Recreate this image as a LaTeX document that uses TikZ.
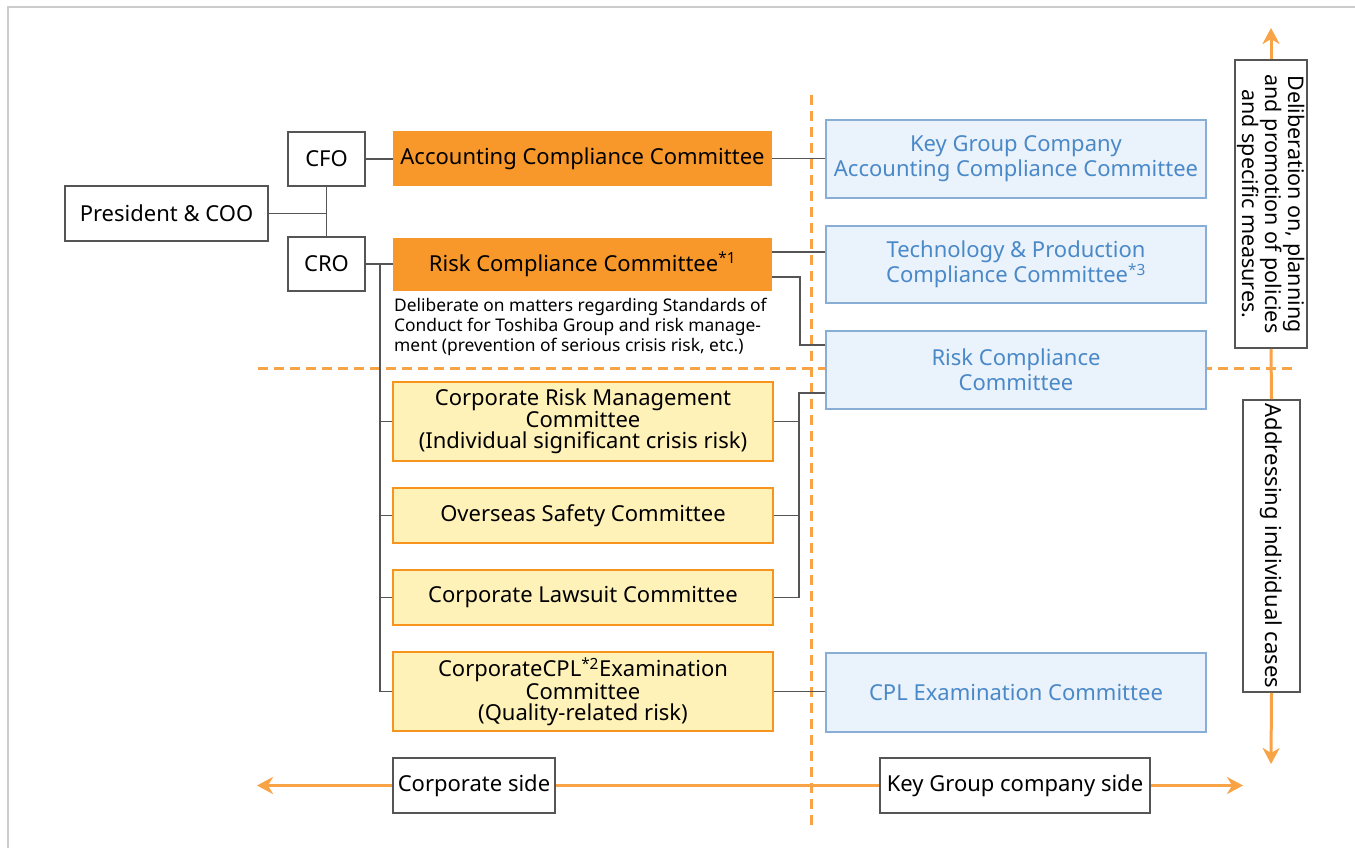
\documentclass[tikz,border=0pt]{standalone}
\usepackage{fontspec}
\setmainfont{Noto Sans}
\usetikzlibrary{arrows.meta}
\definecolor{orangeF}{HTML}{F8982B}
\definecolor{orangeD}{HTML}{F7941D}
\definecolor{yellowF}{HTML}{FFF2B9}
\definecolor{blueF}{HTML}{EAF2FB}
\definecolor{blueD}{HTML}{88AED6}
\definecolor{blueT}{HTML}{4A89C8}
\definecolor{lineC}{HTML}{555555}
\definecolor{arrowC}{HTML}{F9A347}
\definecolor{frameC}{HTML}{CCCCCC}
\tikzset{
  lbl/.style={font=\fontsize{22}{21}\selectfont, align=center, inner sep=0pt},
  whitebox/.style={lbl, draw=lineC, line width=1.8pt, fill=white, text=black},
  orangebox/.style={lbl, fill=orangeF, draw=none, text=black},
  yellowbox/.style={lbl, fill=yellowF, draw=orangeD, line width=1.5pt, text=black, minimum width=380pt},
  bluebox/.style={lbl, font=\fontsize{22}{25}\selectfont, fill=blueF, draw=blueD, line width=1.5pt, text=blueT, minimum width=380pt, minimum height=78pt},
  conn/.style={draw=lineC, line width=1.8pt},
  oline/.style={draw=arrowC, line width=3pt},
  oarrow/.style={oline, -{Stealth[length=16pt,width=17pt,inset=5pt]}},
  odash/.style={draw=arrowC, line width=3pt, dash pattern=on 10pt off 6pt},
}
\begin{document}
\begin{tikzpicture}[x=1pt,y=-1pt]
\useasboundingbox (0,0) rectangle (1355,848);
\fill[white] (0,0) rectangle (1355,848);
% page frame
\draw[frameC, line width=2pt] (8,848) -- (8,7) -- (1355,7);
% dashed separators
\draw[odash] (258,368) -- (1295,368);
\draw[odash] (811,95) -- (811,830);

% left column
\node[whitebox, minimum width=203pt, minimum height=55pt] (pres) at (166.5,213.5) {President \& COO};
\node[whitebox, minimum width=77pt, minimum height=54pt] (cfo) at (326.5,159) {CFO};
\node[whitebox, minimum width=77pt, minimum height=54pt] (cro) at (326.5,264) {CRO};

\node[orangebox, minimum width=379pt, minimum height=55pt] (acc) at (582.5,158.5) {Accounting Compliance Committee};
\node[orangebox, minimum width=379pt, minimum height=53pt] (risk) at (582.5,264.5) {Risk Compliance Committee\textsuperscript{*1}};
\node[anchor=west, align=left, inner sep=0pt, font=\fontsize{17.4}{20}\selectfont] (desc) at (394,327)
  {Deliberate on matters regarding Standards of\\Conduct for Toshiba Group and risk manage-\\ment (prevention of serious crisis risk, etc.)};

\node[yellowbox, minimum height=79pt] (crm) at (583,421.5) {Corporate Risk Management\\Committee\\(Individual significant crisis risk)};
\node[yellowbox, minimum height=55pt] (oss) at (583,515.5) {Overseas Safety Committee};
\node[yellowbox, minimum height=55pt] (law) at (583,597.5) {Corporate Lawsuit Committee};
\node[yellowbox, minimum height=79pt] (cpl) at (583,691.5) {CorporateCPL\textsuperscript{*2}Examination\\Committee\\(Quality-related risk)};

% right column
\node[bluebox] (kg) at (1016,159) {Key Group Company\\Accounting Compliance Committee};
\node[bluebox, minimum height=77pt] (tech) at (1016,264.5) {Technology \& Production\\Compliance Committee\textsuperscript{*3}};
\node[bluebox] (rc) at (1016,370) {Risk Compliance\\Committee};
\node[bluebox, minimum height=79pt] (cplb) at (1016,692.5) {CPL Examination Committee};

% connectors
\draw[conn] (pres.east) -- (pres.east -| cfo.south);
\draw[conn] (cfo.south) -- (cro.north);
\draw[conn] (cfo.east) -- (cfo.east -| acc.west);
\draw[conn] (acc.east) -- (acc.east -| kg.west);
\draw[conn] (cro.east) -- (cro.east -| risk.west);
\coordinate (bus) at (380,264);
\draw[conn] (bus) |- (cpl.west);
\draw[conn] (bus |- crm.west) -- (crm.west);
\draw[conn] (bus |- oss.west) -- (oss.west);
\draw[conn] (bus |- law.west) -- (law.west);
\coordinate (rA) at ([yshift=12.5pt]risk.east);
\coordinate (rB) at ([yshift=-12.5pt]risk.east);
\coordinate (rcA) at ([yshift=25pt]rc.west);
\coordinate (rcB) at ([yshift=-23pt]rc.west);
\coordinate (j1) at (800,300);
\coordinate (j2) at (799,500);
\draw[conn] (rA) -- (rA -| tech.west);
\draw[conn] (rB) -| (j1 |- rcA) -- (rcA);
\draw[conn] (law.east) -| (j2 |- rcB) -- (rcB);
\draw[conn] (crm.east) -- (crm.east -| j2);
\draw[conn] (oss.east) -- (oss.east -| j2);
\draw[conn] (cpl.east) -- (cpl.east -| cplb.west);

% vertical axis on the right
\node[whitebox, rotate=-90, font=\fontsize{21.5}{21.5}\selectfont, minimum width=288pt, minimum height=72pt] (delib) at (1271,204)
  {Deliberation on, planning\\and promotion of policies\\and specific measures.};
\node[whitebox, rotate=-90, font=\fontsize{22}{21.5}\selectfont, minimum width=292pt, minimum height=57pt] (addr) at (1271.5,546)
  {Addressing individual cases};
\coordinate (vt) at (1271,28);
\coordinate (vb) at (1271,764);
\draw[oarrow] (delib.west) -- (vt);
\draw[oline] (delib.east) -- (addr.west);
\draw[oarrow] (addr.east) -- (vb);

% horizontal axis at the bottom
\node[whitebox, minimum width=162pt, minimum height=55pt] (corp) at (474,785.5) {Corporate side};
\node[whitebox, minimum width=270pt, minimum height=55pt] (kgside) at (1015,785.5) {Key Group company side};
\coordinate (hl) at (257,785.5);
\coordinate (hr) at (1243,785.5);
\draw[oarrow] (corp.west) -- (hl);
\draw[oline] (corp.east) -- (kgside.west);
\draw[oarrow] (kgside.east) -- (hr);
\end{tikzpicture}
\end{document}
